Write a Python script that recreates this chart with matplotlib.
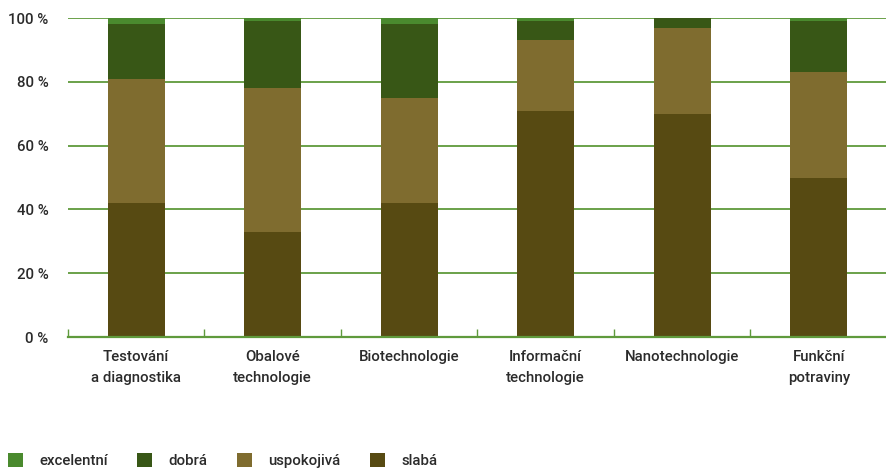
import numpy as np
import matplotlib
matplotlib.use("Agg")
import matplotlib.pyplot as plt

# Hodnocení úrovně jednotlivých oblastí (podíly v %)
categories = ["Testování\na diagnostika", "Obalové\ntechnologie", "Biotechnologie",
              "Informační\ntechnologie", "Nanotechnologie", "Funkční\npotraviny"]
slaba = [42, 33, 42, 71, 70, 50]
uspokojiva = [39, 45, 33, 22, 27, 33]
dobra = [17, 21, 23, 6, 3, 16]
excelentni = [2, 1, 2, 1, 0, 1]

series = [("slabá", slaba, "#574a12"),
          ("uspokojivá", uspokojiva, "#7f6c2f"),
          ("dobrá", dobra, "#385716"),
          ("excelentní", excelentni, "#4a8a2e")]
yticks = [0, 20, 40, 60, 80, 100]

plt.rcParams['font.family'] = ['Roboto', 'DejaVu Sans']
plt.rcParams['font.weight'] = 'medium'
text_color = "#2b2b2b"
green = "#5f9a3c"
fs = 10.8

fig = plt.figure(figsize=(8.87, 4.69), dpi=100)
ax = fig.add_axes([68 / 887, 1 - 337 / 469, 1 - 68 / 887, (337 - 18) / 469])

x = np.arange(len(categories))
bottom = np.zeros(len(categories))
handles = {}
for name, vals, color in series:
    vals = np.array(vals, dtype=float)
    handles[name] = ax.bar(x, vals, width=0.415, bottom=bottom, color=color,
                           linewidth=0, zorder=3)
    bottom += vals

ax.set_xlim(-0.5, 5.46)
ax.set_ylim(0, 100)

for y in yticks[1:]:
    ax.axhline(y, color=green, linewidth=1.3, zorder=1)
ax.axhline(0, color=green, linewidth=1.6, zorder=4, clip_on=False)

for s in ax.spines.values():
    s.set_visible(False)

ax.set_yticks(yticks)
ax.set_yticklabels([f"{v} %" for v in yticks])
ax.tick_params(axis='y', length=0, pad=14, labelsize=fs, labelcolor=text_color)

# popisky kategorií pod sloupci, značky na hranicích kategorií
ax.set_xticks(x)
ax.set_xticklabels(categories, linespacing=1.65)
ax.tick_params(axis='x', which='major', length=0, pad=9, labelsize=fs,
               labelcolor=text_color)
ax.set_xticks(np.arange(-0.5, len(categories), 1.0), minor=True)
ax.tick_params(axis='x', which='minor', direction='in', length=6, width=1,
               color=green)

order = ["excelentní", "dobrá", "uspokojivá", "slabá"]
fig.legend([handles[n] for n in order], order, loc='lower left',
           bbox_to_anchor=(0.0, -0.014), ncol=4, frameon=False,
           handlelength=1.0, handleheight=1.0, handletextpad=1.1,
           columnspacing=1.95, fontsize=fs, labelcolor=text_color,
           borderaxespad=0.2, borderpad=0.3)

fig.savefig("out.png", dpi=100)
